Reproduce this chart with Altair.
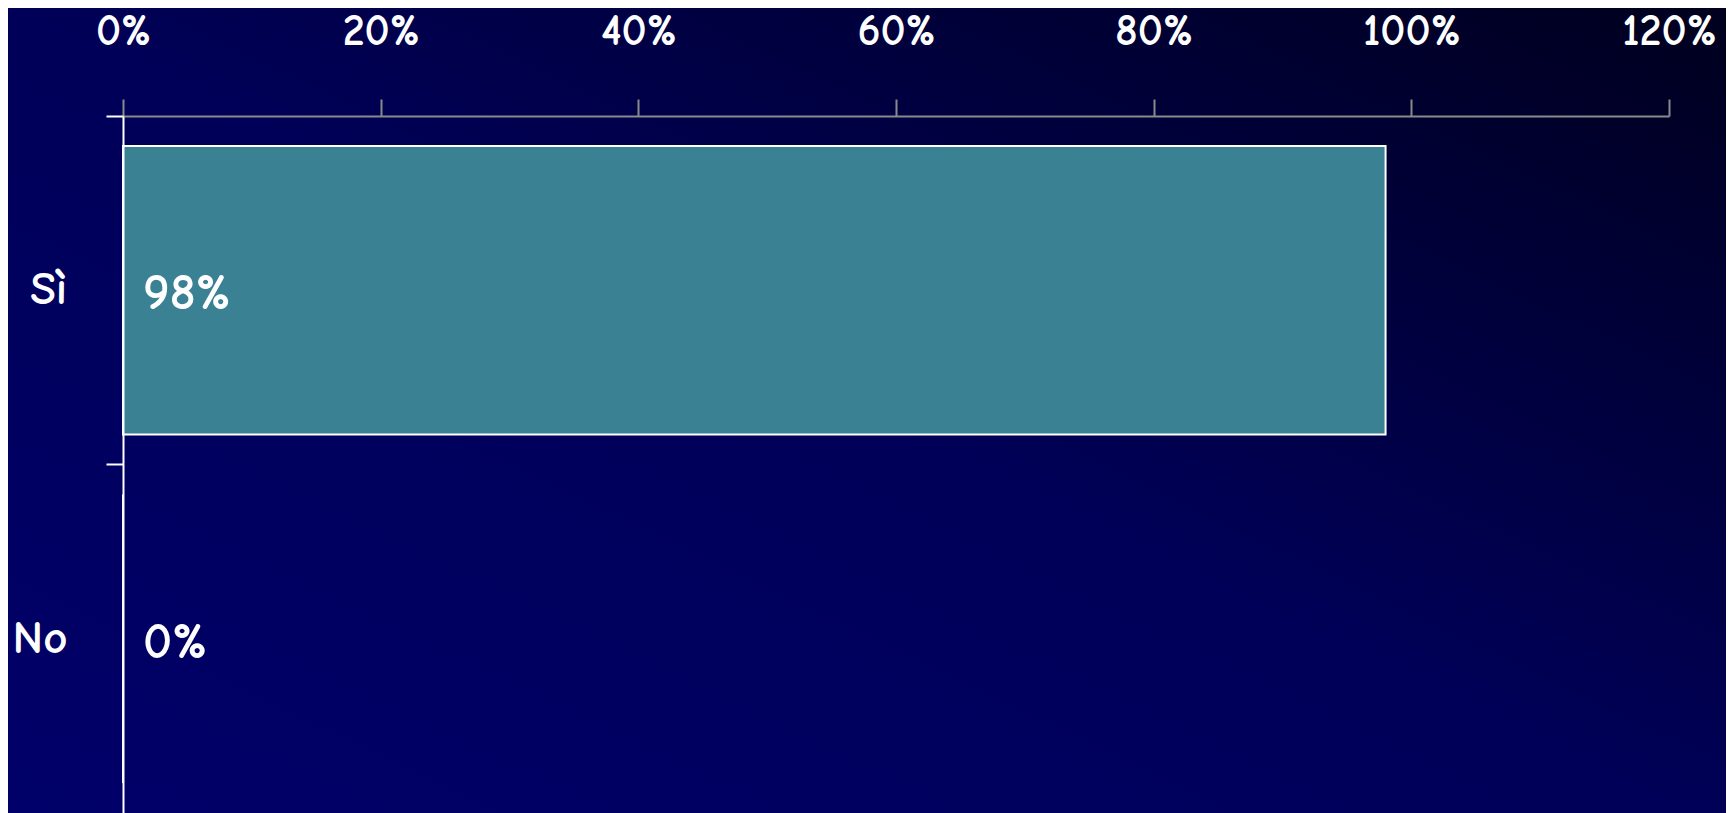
import altair as alt
import pandas as pd

categories = ["Sì", "No"]
values = [0.98, 0.0]
value_labels = ["98%", "0%"]
x_ticks = [0, 0.2, 0.4, 0.6, 0.8, 1.0, 1.2]

df = pd.DataFrame({"cat": categories, "val": values, "lab": value_labels})

FONT = "Comic Sans MS, Comic Neue, DejaVu Sans, sans-serif"
W, H = 1546, 697
PL, PT, PR, PB = 115, 108, 57, 0

bg = alt.Chart(alt.Data(values=[{}])).mark_rect(
    color=alt.LinearGradient(
        gradient="linear",
        x1=0, y1=1, x2=1, y2=0,
        stops=[
            alt.GradientStop(offset=0, color="#00006A"),
            alt.GradientStop(offset=0.5, color="#000058"),
            alt.GradientStop(offset=1, color="#00001E"),
        ],
    )
).encode(
    x=alt.value(-PL), x2=alt.value(W + PR),
    y=alt.value(-PT), y2=alt.value(H + 20),
)

yenc = alt.Y(
    "cat:N",
    sort=categories,
    scale=alt.Scale(paddingInner=0, paddingOuter=0),
    axis=alt.Axis(
        title=None, bandPosition=0, domainColor="white", domainWidth=2,
        tickColor="white", tickWidth=2, tickSize=17,
        labelColor="white", labelFont=FONT, labelFontSize=47,
        labelFontWeight="bold", labelPadding=39, zindex=2,
    ),
)

bars = alt.Chart(df).mark_bar(
    height=alt.RelativeBandSize(band=0.828),
    color="#3A8194", stroke="white", strokeWidth=2,
).encode(
    x=alt.X(
        "val:Q",
        scale=alt.Scale(domain=[0, 1.2], nice=False),
        axis=alt.Axis(
            orient="top", title=None, values=x_ticks, format=".0%",
            domainColor="#8A8A8A", domainWidth=2, tickColor="#8A8A8A",
            tickWidth=2, tickSize=17, grid=False,
            labelColor="white", labelFont=FONT, labelFontSize=44,
            labelFontWeight="bold", labelBaseline="alphabetic",
            labelFlush=False, labelOverlap=False,
            labelPadding=55, zindex=2,
        ),
    ),
    y=yenc,
)

texts = alt.Chart(df).mark_text(
    align="left", baseline="middle", dx=20, dy=4,
    color="white", font=FONT, fontSize=51, fontWeight="bold",
).encode(
    x=alt.value(0),
    y=alt.Y("cat:N", sort=categories),
    text="lab:N",
)

chart = alt.layer(bg, bars, texts).properties(
    width=W, height=H,
    autosize=alt.AutoSizeParams(type="none"),
    padding={"left": PL, "top": PT, "right": PR, "bottom": PB},
    background="#000040",
).configure_view(stroke=None)

chart.save("out.html", embed_options={"renderer": "svg", "actions": False})
